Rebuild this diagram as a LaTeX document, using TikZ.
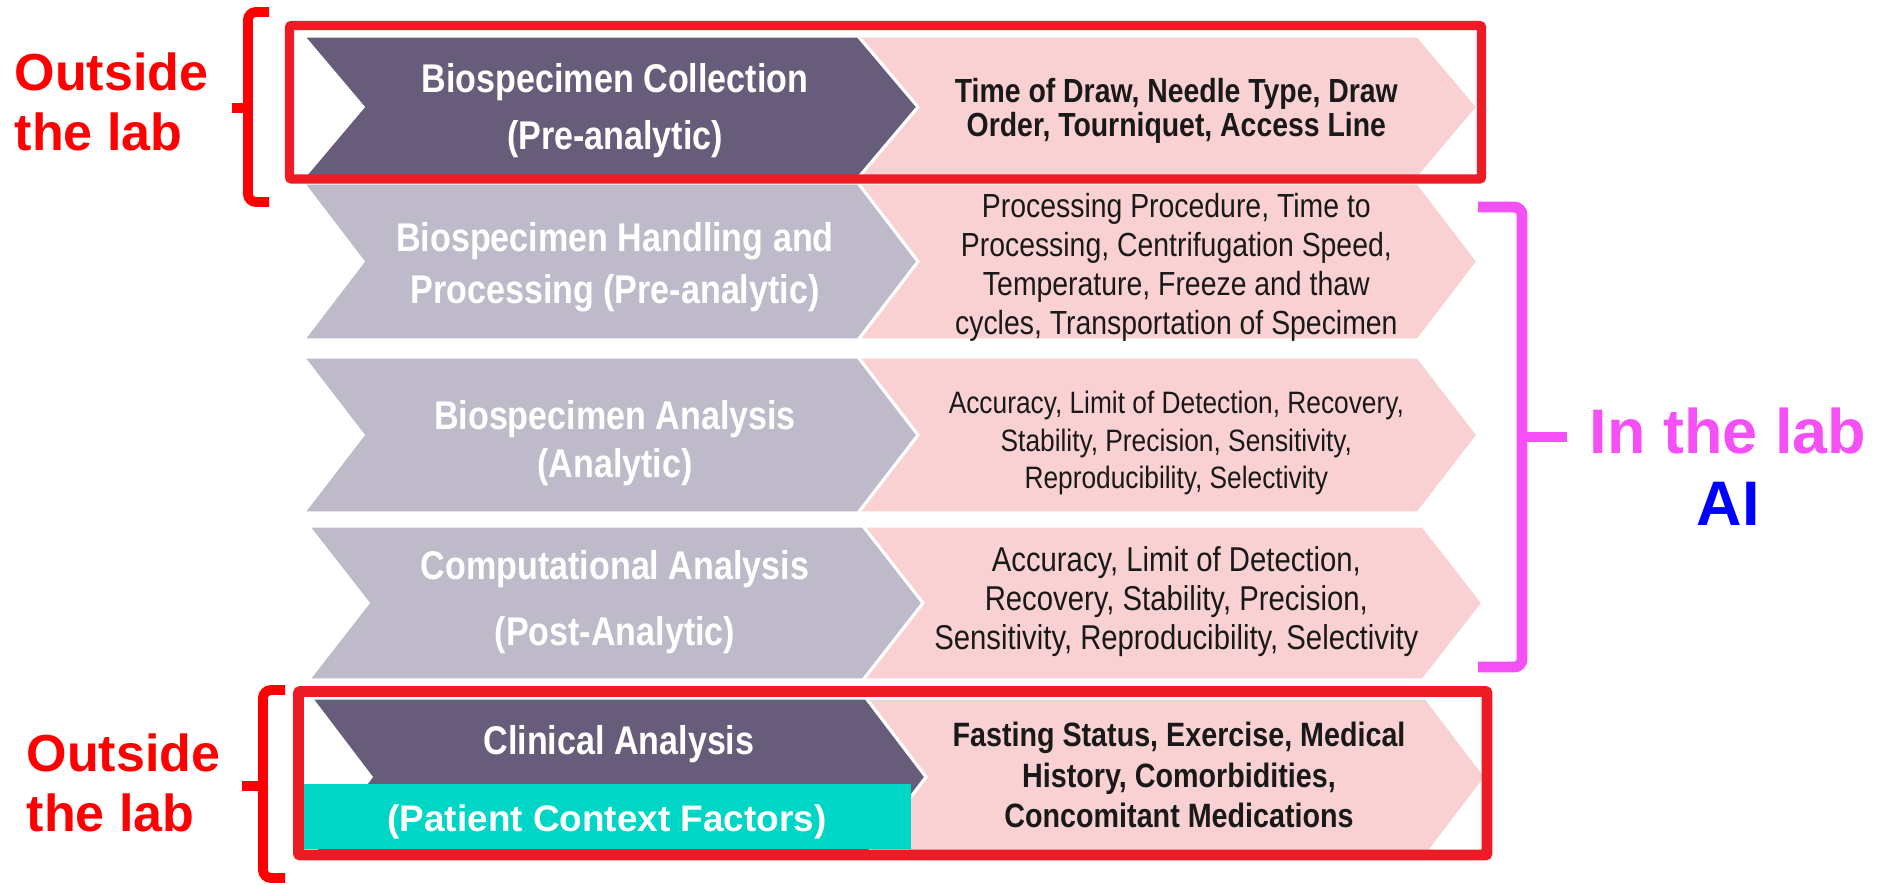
\documentclass[tikz,border=0pt]{standalone}
\usepackage{fontspec}
\setmainfont{Liberation Sans}
\newfontfamily\narrowfont[FakeStretch=0.85]{Liberation Sans}
\usepackage{tikz}
\usetikzlibrary{arrows,positioning}

\definecolor{stagedark}{RGB}{103,93,122}
\definecolor{stagelight}{RGB}{190,186,202}
\definecolor{factorpink}{RGB}{249,209,211}
\definecolor{boxred}{RGB}{237,28,36}
\definecolor{labpink}{RGB}{245,80,245}
\definecolor{patientteal}{RGB}{0,214,197}

\newcommand{\stagefont}[1]{\narrowfont\bfseries\fontsize{11.4}{#1}\selectfont}
\newcommand{\factorfont}[2]{\narrowfont\fontsize{#1}{#2}\selectfont}
% #2 left x, #3 right x (before the tip), #4 top y, #5 bottom y
\newcommand{\chevron}[5][]{\path[#1] (#2,#4) -- (#3,#4) -- ({#3+60},{(#4+#5)/2}) -- (#3,#5) -- (#2,#5) -- ({#2+60},{(#4+#5)/2}) -- cycle;}

\tikzstyle{stage}=[draw=white, line width=0.9pt]
\tikzstyle{factor}=[draw=white, line width=0.9pt, fill=factorpink]
\tikzstyle{stagetext}=[text=white, align=center, inner sep=0]
\tikzstyle{factortext}=[text=black!90, align=center, inner sep=0]
\tikzstyle{frame}=[draw=boxred, rounded corners=0.02cm]
\tikzstyle{bracket}=[draw=red, line width=2.8pt, rounded corners=0.08cm]
\tikzstyle{outside}=[text=red, font=\bfseries\fontsize{14.8}{17.1}\selectfont, align=left, inner sep=0]

\begin{document}
\begin{tikzpicture}[x=0.01cm,y=-0.01cm,node distance=5.61cm,>=latex']
\useasboundingbox (0,0) rectangle (1886,884);

% the five stages
\foreach \yt/\yb/\dx/\col in {36/178/0/stagedark, 183/340/0/stagelight, 357/513/0/stagelight, 526/680/5/stagelight, 698/856/8/stagedark}{
  \chevron[factor]{800+\dx}{1418+\dx}{\yt}{\yb}
  \chevron[stage, fill=\col]{303+\dx}{858+\dx}{\yt}{\yb}
}

\node [fill=patientteal, text=white, font=\bfseries\fontsize{10.5}{12}\selectfont, inner sep=0,
       minimum width=6.08cm, text height=0.472cm, text depth=0.178cm] (patient) at (607,816.5) {(Patient Context Factors)};

\draw[frame, line width=2.6pt] (289.5,25.5) rectangle (1481.5,179);
\draw[frame, line width=3.1pt] (298.5,691.5) rectangle (1487,855);

\node [stagetext, font=\stagefont{16.2}] (collect) at (615,110.7) {Biospecimen Collection\\(Pre-analytic)};
\node [stagetext, font=\stagefont{14.8}] (handle) at (615,267) {Biospecimen Handling and\\Processing (Pre-analytic)};
\node [stagetext, font=\stagefont{13.7}] (analyse) at (615,443) {Biospecimen Analysis\\(Analytic)};
\node [stagetext, font=\stagefont{18.8}] (compute) at (615,602) {Computational Analysis\\(Post-Analytic)};
\node [stagetext, font=\stagefont{13}] (clinic) at (619,744) {Clinical Analysis};

\node [factortext, font=\factorfont{9.5}{9.7}\bfseries] (drawf) [right of=collect] {Time of Draw, Needle Type, Draw\\Order, Tourniquet, Access Line};
\node [factortext, font=\factorfont{9.5}{11.1}] (handlef) [right of=handle] {Processing Procedure, Time to\\Processing, Centrifugation Speed,\\Temperature, Freeze and thaw\\cycles, Transportation of Specimen};
\node [factortext, font=\factorfont{8.8}{10.7}] (analysef) [right of=analyse] {Accuracy, Limit of Detection, Recovery,\\Stability, Precision, Sensitivity,\\Reproducibility, Selectivity};
\node [factortext, font=\factorfont{9.8}{11.1}] (computef) [right of=compute] {Accuracy, Limit of Detection,\\Recovery, Stability, Precision,\\Sensitivity, Reproducibility, Selectivity};
\node [factortext, font=\factorfont{9.6}{11.5}\bfseries] (clinicf) at (1179,775) {Fasting Status, Exercise, Medical\\History, Comorbidities,\\Concomitant Medications};

% brackets and their labels
\draw[bracket] (269,12) -- (248,12) -- (248,202) -- (269,202);
\draw[bracket] (248,108) -- (232,108);
\draw[bracket] (285,690) -- (263,690) -- (263,878) -- (285,878);
\draw[bracket] (263,786) -- (242,786);
\draw[bracket, draw=labpink, line width=3.1pt] (1478,207) -- (1522,207) -- (1522,667) -- (1478,667);
\draw[bracket, draw=labpink, line width=3.1pt] (1522,437) -- (1567,437);

\node [outside, anchor=west] (outtop) at (14,101.6) {Outside\\the lab};
\node [outside, anchor=west] (outbottom) at (26,782.6) {Outside\\the lab};
\node [text=labpink, font=\bfseries\fontsize{17.9}{21}\selectfont, inner sep=0] (inlab) at (1728,430.5) {In the lab};
\node [text=blue, font=\bfseries\fontsize{17.9}{21}\selectfont, inner sep=0] (ai) [below of=inlab, node distance=0.735cm] {AI};

\end{tikzpicture}
\end{document}
